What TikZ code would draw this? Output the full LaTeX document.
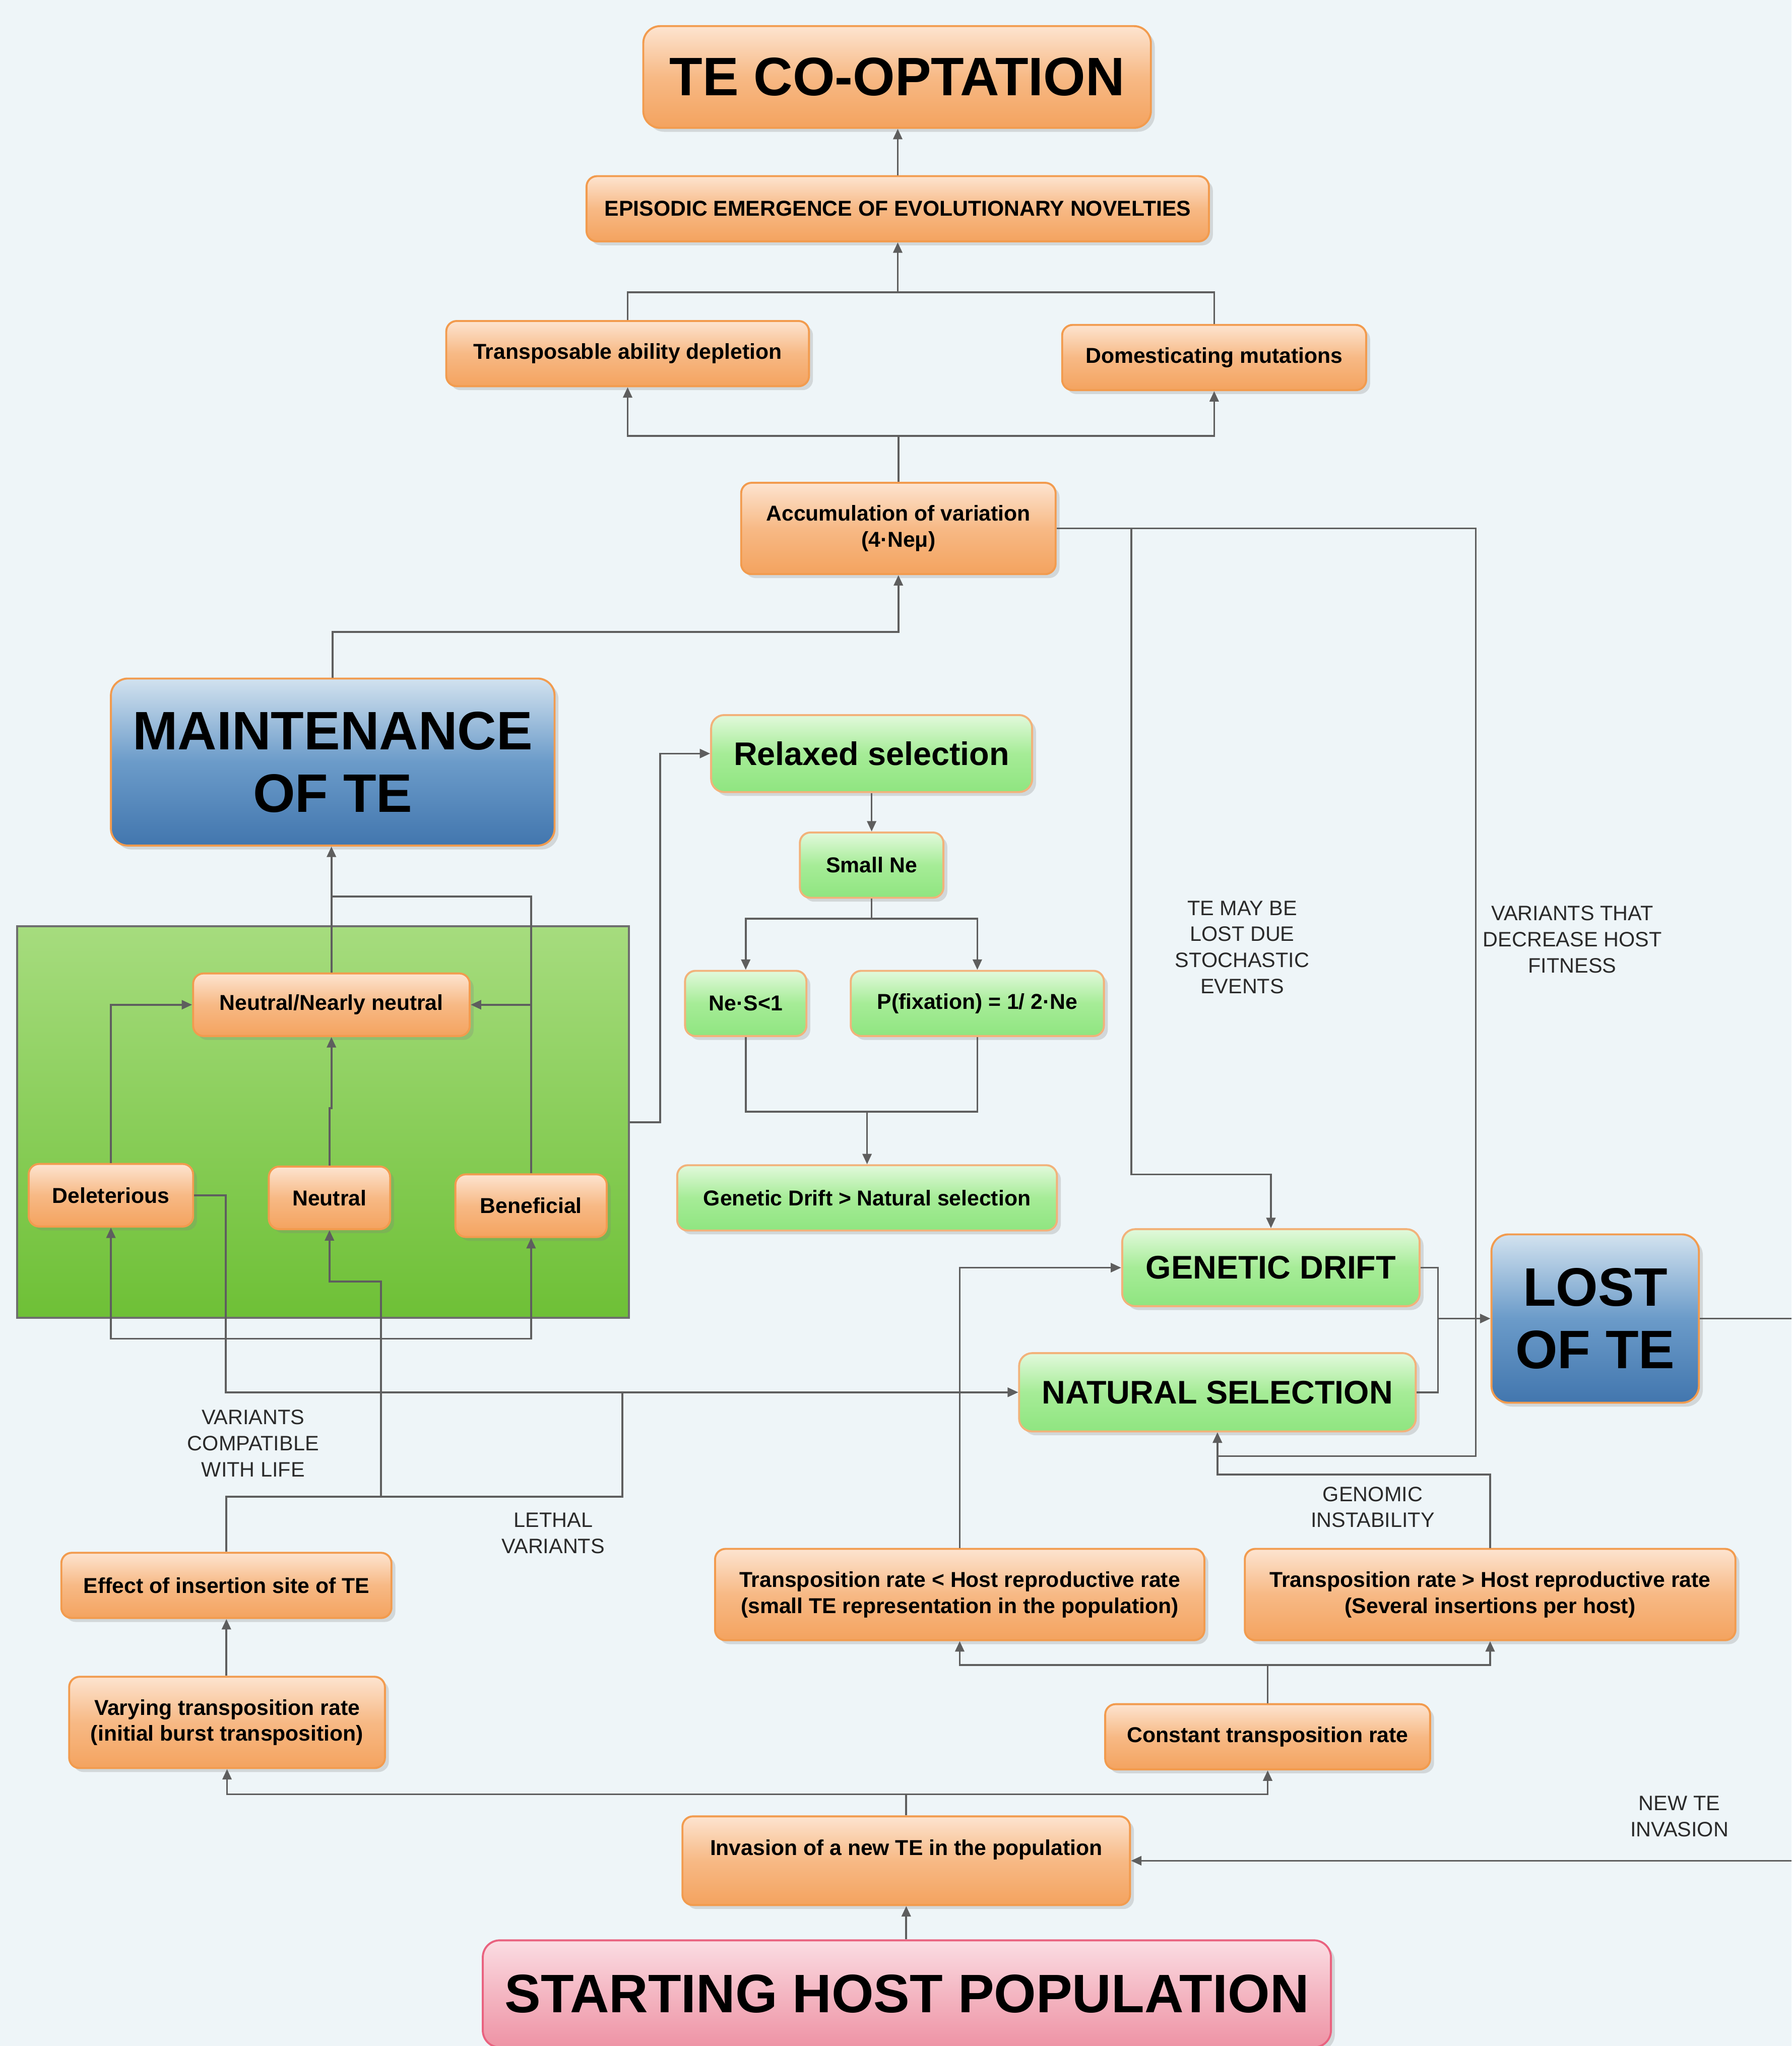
\documentclass[tikz,border=0pt]{standalone}
\usepackage{fontspec}
\setmainfont{Liberation Sans}
\usetikzlibrary{arrows.meta,shadows}

\definecolor{bgcol}{HTML}{EEF5F8}
\definecolor{linecol}{HTML}{5E5E5E}
\definecolor{notecol}{HTML}{2A2A2A}
\definecolor{edgeor}{HTML}{F29B4E}
\definecolor{ortop}{HTML}{FDE4D0}
\definecolor{ormid}{HTML}{F7B985}
\definecolor{orbot}{HTML}{F4A35F}
\definecolor{edgegr}{HTML}{F2B27A}
\definecolor{grtop}{HTML}{E2F9DC}
\definecolor{grmid}{HTML}{A6EC97}
\definecolor{grbot}{HTML}{8FE580}
\definecolor{bltop}{HTML}{D2E2EF}
\definecolor{blmid}{HTML}{6B9BC9}
\definecolor{blbot}{HTML}{4276AE}
\definecolor{pktop}{HTML}{FBDDE3}
\definecolor{pkmid}{HTML}{F4B6C2}
\definecolor{pkbot}{HTML}{EE93A5}
\definecolor{edgepk}{HTML}{E9627F}
\definecolor{zonetop}{HTML}{A6DC7E}
\definecolor{zonebot}{HTML}{6EC036}

\tikzset{
  box/.style={rounded corners=8pt, line width=1.5pt, inner sep=0pt, align=center,
    font=\bfseries\fontsize{16.5}{20}\selectfont,
    drop shadow={shadow xshift=3pt, shadow yshift=-3pt, opacity=0.25}},
  orangebox/.style={box, draw=edgeor, top color=ortop, bottom color=orbot, middle color=ormid},
  greenbox/.style={box, draw=edgegr, top color=grtop, bottom color=grbot, middle color=grmid},
  bluebox/.style={box, draw=edgeor, top color=bltop, bottom color=blbot, middle color=blmid},
  pinkbox/.style={box, draw=edgepk, top color=pktop, bottom color=pkbot, middle color=pkmid},
  big/.style={rounded corners=13pt, font=\bfseries\fontsize{41.5}{48}\selectfont},
  mid/.style={rounded corners=10pt, font=\bfseries\fontsize{25}{30}\selectfont},
  zone/.style={draw=linecol!90, line width=1.5pt, top color=zonetop, bottom color=zonebot, inner sep=0pt},
  note/.style={inner sep=0pt, align=center, text=notecol, font=\fontsize{16}{20}\selectfont},
  link/.style={draw=linecol, line width=1.4pt},
  arr/.style={link, -{Triangle[length=8pt,width=7pt]}}
}

\begin{document}
\begin{tikzpicture}[x=1pt,y=-1pt]
\useasboundingbox (0,0) rectangle (1373,1568);
\clip (0,0) rectangle (1373,1568);
\fill[bgcol] (0,0) rectangle (1373,1568);

% green area round the variant boxes
\node[zone, minimum width=469pt, minimum height=300pt] (zone) at (247.5,860) {};

% upper part
\node[orangebox, big, minimum width=389pt, minimum height=78pt] (coopt) at (687.5,59) {TE CO-OPTATION};
\node[orangebox, minimum width=477pt, minimum height=50pt] (novel) at (688,160) {EPISODIC EMERGENCE OF EVOLUTIONARY NOVELTIES};
\node[orangebox, minimum width=278pt, minimum height=50pt] (deplete) at (481,271) {Transposable ability depletion};
\node[orangebox, minimum width=233pt, minimum height=50pt] (domest) at (930.5,274) {Domesticating mutations};
\node[orangebox, minimum width=241pt, minimum height=70pt] (accum) at (688.5,405) {Accumulation of variation\\(4·Neμ)};

% maintenance
\node[bluebox, big, minimum width=340pt, minimum height=128pt] (maint) at (255,584) {MAINTENANCE\\OF TE};
\node[orangebox, minimum width=212pt, minimum height=48pt] (nearly) at (254,770) {Neutral/Nearly neutral};
\node[orangebox, minimum width=126pt, minimum height=48pt] (delet) at (85,916) {Deleterious};
\node[orangebox, minimum width=93pt, minimum height=48pt] (neutral) at (252.5,918) {Neutral};
\node[orangebox, minimum width=116pt, minimum height=48pt] (benef) at (407,924) {Beneficial};

% relaxed selection
\node[greenbox, mid, minimum width=246pt, minimum height=59pt] (relax) at (668,577.5) {Relaxed selection};
\node[greenbox, minimum width=110pt, minimum height=50pt] (smallne) at (668,663) {Small Ne};
\node[greenbox, minimum width=93pt, minimum height=50pt] (nes) at (571.5,769) {Ne·S<1};
\node[greenbox, minimum width=194pt, minimum height=50pt] (pfix) at (749,769) {P(fixation) = 1/ 2·Ne};
\node[greenbox, minimum width=291pt, minimum height=50pt] (gdns) at (664.5,918) {Genetic Drift > Natural selection};

% loss
\node[greenbox, mid, minimum width=228pt, minimum height=59pt] (drift) at (974,971.5) {GENETIC DRIFT};
\node[greenbox, mid, minimum width=304pt, minimum height=60pt] (natsel) at (933,1067) {NATURAL SELECTION};
\node[bluebox, big, minimum width=159pt, minimum height=129pt] (lost) at (1222.5,1010.5) {LOST\\OF TE};

% lower part
\node[orangebox, minimum width=375pt, minimum height=70pt] (tless) at (735.5,1222) {Transposition rate < Host reproductive rate\\(small TE representation in the population)};
\node[orangebox, minimum width=376pt, minimum height=70pt] (tmore) at (1142,1222) {Transposition rate > Host reproductive rate\\(Several insertions per host)};
\node[orangebox, minimum width=249pt, minimum height=50pt] (constant) at (971.5,1331) {Constant transposition rate};
\node[orangebox, minimum width=253pt, minimum height=50pt] (effect) at (173.5,1215) {Effect of insertion site of TE};
\node[orangebox, minimum width=242pt, minimum height=70pt] (varying) at (174,1320) {Varying transposition rate\\(initial burst transposition)};
\node[orangebox, minimum width=343pt, minimum height=68pt] (invasion) at (694.5,1426) {Invasion of a new TE in the population\\\mbox{}};
\node[pinkbox, big, minimum width=650pt, minimum height=82pt] (start) at (695,1528) {STARTING HOST POPULATION};

% labels
\node[note] (lblstoch) at (952,726) {TE MAY BE\\LOST DUE\\STOCHASTIC\\EVENTS};
\node[note] (lblfit) at (1205,720) {VARIANTS THAT\\DECREASE HOST\\FITNESS};
\node[note] (lbllife) at (194,1106) {VARIANTS\\COMPATIBLE\\WITH LIFE};
\node[note] (lbllethal) at (424,1175) {LETHAL\\VARIANTS};
\node[note] (lblgen) at (1052,1155) {GENOMIC\\INSTABILITY};
\node[note] (lblnew) at (1287,1392) {NEW TE\\INVASION};

% junctions
\coordinate (forka) at (688,224);
\coordinate (forkb) at (688.5,334);
\coordinate (stoch) at (867,405);
\coordinate (merge) at (1102,1010.5);
\coordinate (edger) at (1373,1010.5);
\coordinate (edgen) at (1373,1426);
\coordinate (genj) at (933,1130);
\coordinate (lifej) at (292,1147);
\coordinate (varj) at (292,1026);
\coordinate (benefj) at (407,770);
\coordinate (nefork) at (668,704);
\coordinate (nemerge) at (664.5,852);
\coordinate (cfork) at (971.5,1276);
\coordinate (ifork) at (694.5,1375);

% connectors
\draw[arr] (novel.north) -- (novel.north |- coopt.south);
\draw[link] (deplete.north) |- (forka) -| (domest.north);
\draw[arr] (forka) -- (novel.south);
\draw[link] (accum.north) -- (forkb);
\draw[arr] (forkb) -| (deplete.south);
\draw[arr] (forkb) -| (domest.south);
\draw[arr] (maint.north) -- ++(0,-35) -| (accum.south);
\draw[arr] (accum.east) -| (1131,1116) -| (natsel.south);
\draw[arr] (stoch) -- (867,900) -| (drift.north);
\draw[link] (drift.east) -| (merge);
\draw[link] (natsel.east) -| (merge);
\draw[arr] (merge) -- (lost.west);
\draw[link] (lost.east) -- (edger);
\draw[arr] (edgen) -- (invasion.east);

\draw[arr] (nearly.north) -- (nearly.north |- maint.south);
\draw[arr] (delet.north) |- (nearly.west);
\draw[arr] (neutral.north) -- ++(0,-44) -| (nearly.south);
\draw[link] (benef.north) |- (254,687);
\draw[arr] (benefj) -- (nearly.east);
\draw[arr] (varj) -| (delet.south);
\draw[arr] (varj) -| (benef.south);
\draw[arr] (effect.north) |- (lifej) -- (292,982) -| (neutral.south);
\draw[arr] (lifej) -| (477,1067) -- (natsel.west);
\draw[arr] (delet.east) -| (173,1067) -- (natsel.west);

\draw[arr] (zone.east) -| (506,577.5) -- (relax.west);
\draw[arr] (relax.south) -- (smallne.north);
\draw[link] (smallne.south) -- (nefork);
\draw[arr] (nefork) -| (nes.north);
\draw[arr] (nefork) -| (pfix.north);
\draw[link] (nes.south) |- (nemerge) -| (pfix.south);
\draw[arr] (nemerge) -- (gdns.north);

\draw[arr] (tless.north) |- (drift.west);
\draw[arr] (tmore.north) |- (genj) -- (natsel.south);
\draw[link] (constant.north) -- (cfork);
\draw[arr] (cfork) -| (tless.south);
\draw[arr] (cfork) -| (tmore.south);
\draw[arr] (effect.south |- varying.north) -- (effect.south);
\draw[link] (invasion.north) -- (ifork);
\draw[arr] (ifork) -| (varying.south);
\draw[arr] (ifork) -| (constant.south);
\draw[arr] (invasion.south |- start.north) -- (invasion.south);
\end{tikzpicture}
\end{document}
